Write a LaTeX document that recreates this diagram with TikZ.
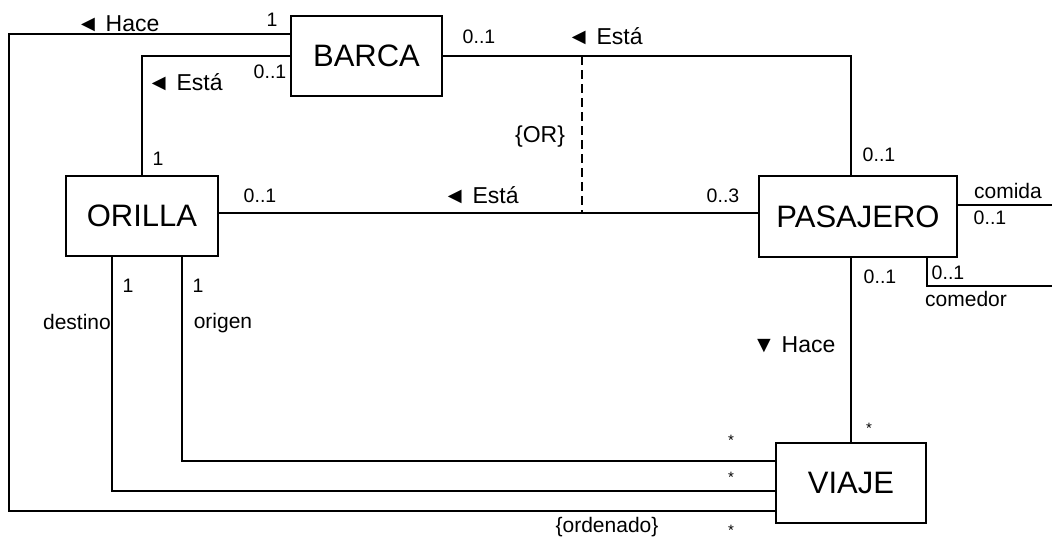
\documentclass[tikz,border=0pt]{standalone}
\usepackage{fontspec}
\setmainfont{Liberation Sans}
\usetikzlibrary{positioning}

\begin{document}
\begin{tikzpicture}[x=1pt, y=-1pt, line width=1.2pt,
  cls/.style={draw, line width=1.5pt, minimum height=80pt, inner sep=0pt, font=\fontsize{31}{36}\selectfont},
  asoc/.style={inner sep=0pt, font=\fontsize{23}{26}\selectfont},
  mult/.style={inner sep=0pt, font=\fontsize{19.5}{22}\selectfont},
  rol/.style={inner sep=0pt, font=\fontsize{21}{24}\selectfont},
  ast/.style={inner sep=0pt, font=\fontsize{15}{16}\selectfont}]
\useasboundingbox (0,0) rectangle (1052,544);
\node[cls, minimum width=151pt] (barca) at (366.5,56) {BARCA};
\node[cls, minimum width=152pt] (orilla) at (142,216) {ORILLA};
\node[cls, minimum width=198pt, minimum height=81pt] (pasajero) at (858,216.5) {PASAJERO};
\node[cls, minimum width=150pt] (viaje) at (851,483) {VIAJE};
\coordinate (orA) at (582,56);
\coordinate (orB) at (582,213);
\coordinate (loopA) at (927,286);
\draw (barca.west |- 0,34) -| (9,511) -- (viaje.west |- 0,511);
\draw (barca.west) -| (orilla.north);
\draw (barca.east) -| ([xshift=-7pt]pasajero.north);
\draw (orilla.east |- 0,213) -- (pasajero.west |- 0,213);
\draw[dash pattern=on 9pt off 5pt] (orA) -- (orB);
\draw ([xshift=-7pt]pasajero.south) -- (viaje.north);
\draw ([xshift=40pt]orilla.south) |- (viaje.west |- 0,461);
\draw ([xshift=-30pt]orilla.south) |- (viaje.west |- 0,491);
\draw ([yshift=11.5pt]pasajero.east) -| (1054,286) -- (loopA) -- (loopA |- pasajero.south);
\node[asoc] (haceBV) at (118,24) {◄ Hace};
\node[mult] (m1) at (272,20) {1};
\node[mult] (m2) at (270,72) {0..1};
\node[asoc] (estaBO) at (185,82) {◄ Está};
\node[mult] (m3) at (158,159) {1};
\node[mult] (m4) at (479,37) {0..1};
\node[asoc] (estaBP) at (605,36) {◄ Está};
\node[asoc] (orLbl) at (540,137) {\{OR\}};
\node[mult] (m5) at (879,155) {0..1};
\node[mult] (m6) at (260,196) {0..1};
\node[asoc] (estaOP) at (481,195) {◄ Está};
\node[mult] (m7) at (723,196) {0..3};
\node[rol] (comida) at (1008,191) {comida};
\node[mult] (m8) at (990,218) {0..1};
\node[mult] (m9) at (948,273) {0..1};
\node[rol] (comedor) at (966,299) {comedor};
\node[mult] (m10) at (880,277) {0..1};
\node[asoc] (hacePV) at (794,345) {▼ Hace};
\node[mult] (m11) at (128,286) {1};
\node[mult] (m12) at (198,286) {1};
\node[rol] (destino) at (77,322) {destino};
\node[rol] (origen) at (223,323) {origen};
\node[ast] (s1) at (731,440) {*};
\node[ast] (s2) at (731,477) {*};
\node[ast] (s3) at (731,530) {*};
\node[ast] (s4) at (869,428) {*};
\node[rol] (ordenado) at (607,527) {\{ordenado\}};
\end{tikzpicture}
\end{document}
